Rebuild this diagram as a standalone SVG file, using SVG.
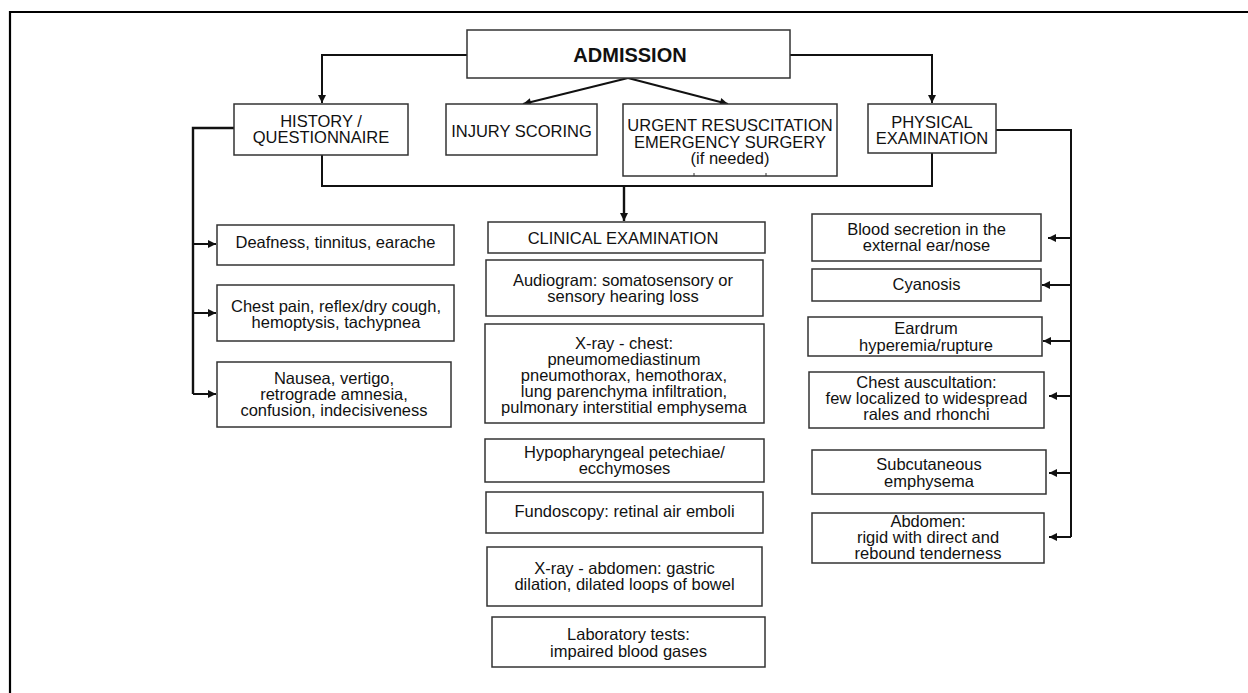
<svg xmlns="http://www.w3.org/2000/svg" width="1248" height="693" viewBox="0 0 1248 693">
<style>
  .box{fill:#fff;stroke:#333;stroke-width:1.5}
  .t{font-family:"Liberation Sans",Arial,Helvetica,sans-serif;font-size:16.5px;fill:#111;text-anchor:middle}
  .b{font-weight:bold;font-size:20px}
  .c{fill:none;stroke:#111;stroke-width:2}
  .frame{fill:none;stroke:#000;stroke-width:2.2}
</style>
<defs>
  <marker id="ah" viewBox="0 0 10 10" refX="10" refY="5" markerUnits="userSpaceOnUse" markerWidth="9" markerHeight="8" orient="auto">
    <path d="M0,0 L10,5 L0,10 z" fill="#111"/>
  </marker>
</defs>
<rect width="1248" height="693" fill="#fff"/>
<path class="frame" d="M10,693 L10,12 L1248,12"/>

<g id="connectors">
  <path class="c" d="M467,55 H322 V103" marker-end="url(#ah)"/>
  <path class="c" d="M790,55 H932 V103" marker-end="url(#ah)"/>
  <path class="c" d="M628,78 L523,104" marker-end="url(#ah)"/>
  <path class="c" d="M628,78 L728,104" marker-end="url(#ah)"/>
  <path class="c" d="M322,155 V186 H932 V153"/>
  <path class="c" d="M624,186 V221" marker-end="url(#ah)" style="stroke-width:2.4"/>
  <path class="c" d="M234,128 H193 V394" style="stroke-width:2.4"/>
  <path class="c" d="M193,244 H216" marker-end="url(#ah)"/>
  <path class="c" d="M193,313 H216" marker-end="url(#ah)"/>
  <path class="c" d="M193,394 H216" marker-end="url(#ah)"/>
  <path class="c" d="M996,130 H1071 V537"/>
  <path class="c" d="M1071,238 H1048" marker-end="url(#ah)"/>
  <path class="c" d="M1071,285 H1042" marker-end="url(#ah)"/>
  <path class="c" d="M1071,341 H1043" marker-end="url(#ah)"/>
  <path class="c" d="M1071,396 H1049" marker-end="url(#ah)"/>
  <path class="c" d="M1071,473 H1049" marker-end="url(#ah)"/>
  <path class="c" d="M1071,537 H1049" marker-end="url(#ah)"/>
</g>

<g id="admission">
  <rect class="box" x="467" y="30" width="323" height="48"/>
  <text class="t b" x="630" y="62">ADMISSION</text>
</g>
<g id="history">
  <rect class="box" x="234" y="104" width="174" height="51"/>
  <text class="t" x="321" y="127">HISTORY /</text>
  <text class="t" x="321" y="143">QUESTIONNAIRE</text>
</g>
<g id="injury">
  <rect class="box" x="446" y="104" width="151" height="51"/>
  <text class="t" x="521.5" y="137">INJURY SCORING</text>
</g>
<g id="urgent">
  <rect class="box" x="623" y="104" width="214" height="72"/>
  <text class="t" x="730" y="131">URGENT RESUSCITATION</text>
  <text class="t" x="730" y="148">EMERGENCY SURGERY</text>
  <text class="t" x="730" y="164">(if needed)</text>
  <path d="M694,173 V176 M766,173 V176" stroke="#333" stroke-width="1"/>
</g>
<g id="physical">
  <rect class="box" x="868" y="104" width="128" height="49"/>
  <text class="t" x="932" y="128">PHYSICAL</text>
  <text class="t" x="932" y="144">EXAMINATION</text>
</g>

<g id="deafness">
  <rect class="box" x="217" y="225" width="237" height="40"/>
  <text class="t" x="335.5" y="248">Deafness, tinnitus, earache</text>
</g>
<g id="chestpain">
  <rect class="box" x="217" y="285" width="237" height="56"/>
  <text class="t" x="336" y="312">Chest pain, reflex/dry cough,</text>
  <text class="t" x="336" y="328">hemoptysis, tachypnea</text>
</g>
<g id="nausea">
  <rect class="box" x="217" y="362" width="234" height="65"/>
  <text class="t" x="334" y="384">Nausea, vertigo,</text>
  <text class="t" x="334" y="400">retrograde amnesia,</text>
  <text class="t" x="334" y="416">confusion, indecisiveness</text>
</g>

<g id="clinical">
  <rect class="box" x="488" y="222" width="277" height="31"/>
  <text class="t" x="623" y="244">CLINICAL EXAMINATION</text>
</g>
<g id="audiogram">
  <rect class="box" x="486" y="260" width="277" height="56"/>
  <text class="t" x="623" y="286">Audiogram: somatosensory or</text>
  <text class="t" x="623" y="302">sensory hearing loss</text>
</g>
<g id="xraychest">
  <rect class="box" x="485" y="324" width="279" height="99"/>
  <text class="t" x="624" y="349">X-ray - chest:</text>
  <text class="t" x="624" y="365">pneumomediastinum</text>
  <text class="t" x="624" y="381">pneumothorax, hemothorax,</text>
  <text class="t" x="624" y="397">lung parenchyma infiltration,</text>
  <text class="t" x="624" y="413">pulmonary interstitial emphysema</text>
</g>
<g id="hypopharyngeal">
  <rect class="box" x="485" y="439" width="279" height="43"/>
  <text class="t" x="624.5" y="458">Hypopharyngeal petechiae/</text>
  <text class="t" x="624.5" y="474">ecchymoses</text>
</g>
<g id="fundoscopy">
  <rect class="box" x="486" y="492" width="277" height="41"/>
  <text class="t" x="624.5" y="517">Fundoscopy: retinal air emboli</text>
</g>
<g id="xrayabdomen">
  <rect class="box" x="487" y="547" width="275" height="59"/>
  <text class="t" x="624.5" y="574">X-ray - abdomen: gastric</text>
  <text class="t" x="624.5" y="590">dilation, dilated loops of bowel</text>
</g>
<g id="laboratory">
  <rect class="box" x="492" y="617" width="273" height="50"/>
  <text class="t" x="628.5" y="640">Laboratory tests:</text>
  <text class="t" x="628.5" y="657">impaired blood gases</text>
</g>

<g id="blood">
  <rect class="box" x="812" y="214" width="229" height="47"/>
  <text class="t" x="926.5" y="235">Blood secretion in the</text>
  <text class="t" x="926.5" y="251">external ear/nose</text>
</g>
<g id="cyanosis">
  <rect class="box" x="812" y="269" width="229" height="32"/>
  <text class="t" x="926.5" y="290">Cyanosis</text>
</g>
<g id="eardrum">
  <rect class="box" x="808" y="317" width="234" height="39"/>
  <text class="t" x="926" y="334">Eardrum</text>
  <text class="t" x="926" y="351">hyperemia/rupture</text>
</g>
<g id="auscultation">
  <rect class="box" x="809" y="372" width="235" height="56"/>
  <text class="t" x="926.5" y="388">Chest auscultation:</text>
  <text class="t" x="926.5" y="404">few localized to widespread</text>
  <text class="t" x="926.5" y="420">rales and rhonchi</text>
</g>
<g id="subcutaneous">
  <rect class="box" x="812" y="450" width="234" height="44"/>
  <text class="t" x="929" y="470">Subcutaneous</text>
  <text class="t" x="929" y="487">emphysema</text>
</g>
<g id="abdomen">
  <rect class="box" x="812" y="513" width="232" height="50"/>
  <text class="t" x="928" y="527">Abdomen:</text>
  <text class="t" x="928" y="543">rigid with direct and</text>
  <text class="t" x="928" y="559">rebound tenderness</text>
</g>
</svg>
